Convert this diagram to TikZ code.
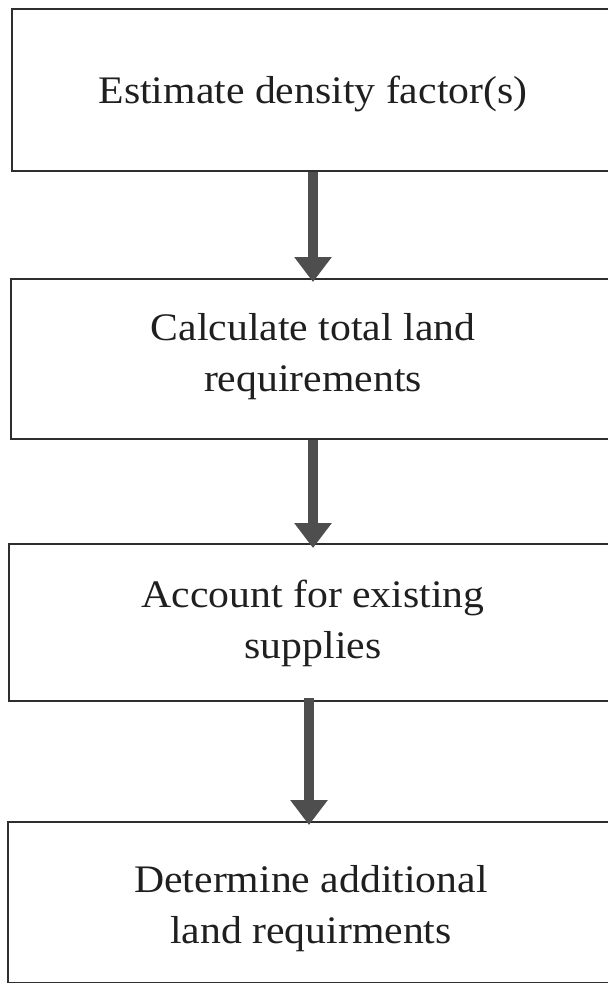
\documentclass[tikz,border=0pt]{standalone}
\usepackage{fontspec}
\setmainfont{Liberation Serif}[FakeStretch=1.07]
\usetikzlibrary{arrows.meta}
\definecolor{boxline}{HTML}{2E2E2E}
\definecolor{arrowfill}{HTML}{4E4E4E}
\begin{document}
\begin{tikzpicture}[x=1pt,y=-1pt,
  stepbox/.style={draw=boxline, line width=1.8pt, rectangle, inner sep=0pt, anchor=north west},
  steptext/.style={align=center, font=\fontsize{39}{51}\selectfont, text=black!88},
  flow/.style={draw=arrowfill, line width=10pt,
    -{Triangle[width=36pt,length=25pt]}}]
\useasboundingbox (0,0) rectangle (608,983);
\clip (0,0) rectangle (608,983);

% process boxes (they run past the right margin)
\node[stepbox, minimum width=615pt, minimum height=162pt] (b1) at (11,8) {};
\node[stepbox, minimum width=615pt, minimum height=160pt] (b2) at (10,278) {};
\node[stepbox, minimum width=615pt, minimum height=157pt] (b3) at (8,543) {};
\node[stepbox, minimum width=615pt, minimum height=161pt] (b4) at (7,821) {};

% box texts
\node[steptext] (t1) at (313,94) {Estimate density factor(s)};
\node[steptext] (t2) at (313,357) {Calculate total land\\requirements};
\node[steptext] (t3) at (313,623) {Account for existing\\supplies};
\node[steptext] (t4) at (311,909) {Determine additional\\land requirments};

% connecting arrows
\coordinate (a1) at (313,0);
\coordinate (a2) at (313,0);
\coordinate (a3) at (309,0);
\draw[flow] (b1.south -| a1) -- ([yshift=-4pt]b2.north -| a1);
\draw[flow] (b2.south -| a2) -- ([yshift=-5pt]b3.north -| a2);
\draw[flow] ([yshift=4pt]b3.south -| a3) -- ([yshift=-4pt]b4.north -| a3);
\end{tikzpicture}
\end{document}
